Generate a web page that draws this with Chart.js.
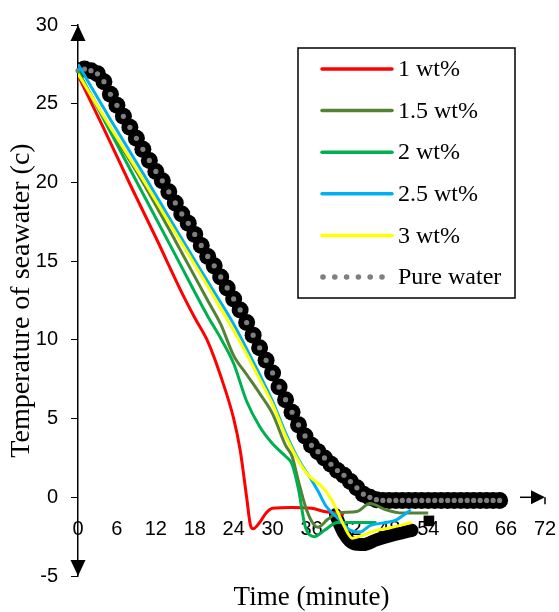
<!DOCTYPE html>
<html lang="en">
<head>
<meta charset="UTF-8" />
<title>Temperature of seawater vs time</title>
<script src="https://cdn.jsdelivr.net/npm/chart.js"></script>
<style>
  html, body { margin: 0; padding: 0; background: #fff; }
  canvas { display: block; }
</style>
</head>
<body>
<canvas id="chart" width="559" height="612"></canvas>
<script>
// tick labels
const timeTicks = [0, 6, 12, 18, 24, 30, 36, 42, 48, 54, 60, 66, 72];
const tempTicks = [-5, 0, 5, 10, 15, 20, 25, 30];

// series (minute, deg C)
const w1Time = [0, 4, 8, 12, 16, 18, 20, 22, 24, 25, 26, 26.6, 27, 28, 29, 30, 33, 36, 38, 40, 41];
const w1Temp = [26.8, 23.4, 19.9, 16.5, 13.0, 11.4, 9.9, 7.7, 5.0, 3.0, 0.0, -1.8, -2.0, -1.6, -1.0, -0.7, -0.65, -0.7, -0.9, -1.0, -1.1];

const w15Time = [0, 5, 10, 15, 20, 22, 24, 26, 28, 30, 32, 33, 34, 35, 36, 37, 38.5, 40, 43, 45, 47.5, 50, 54];
const w15Temp = [27.0, 23.4, 20.0, 16.3, 12.5, 11.0, 9.0, 7.8, 6.6, 5.3, 3.3, 2.6, 1.0, -0.5, -1.5, -1.9, -1.4, -1.0, -0.9, -0.4, -0.8, -1.0, -1.0];

const w2Time = [0, 5, 10, 15, 20, 22, 24, 26, 28, 30, 32, 33, 34, 35, 36.5, 38, 40, 42, 44, 46];
const w2Temp = [27.1, 23.2, 19.3, 15.4, 11.5, 10.1, 8.5, 6.1, 4.5, 3.4, 2.6, 2.1, 0.5, -1.8, -2.5, -2.1, -1.6, -1.6, -1.6, -1.6];

const w25Time = [0, 5, 10, 15, 20, 24, 28, 30, 32, 34, 36, 37, 38.3, 40, 42, 43.5, 45, 47.5, 49, 51.3];
const w25Temp = [27.5, 24.0, 20.6, 17.1, 13.7, 11.0, 7.8, 6.1, 4.1, 2.4, 1.1, 0.4, -0.6, -1.3, -2.1, -2.2, -1.8, -1.6, -1.45, -0.8];

const w3Time = [0, 5, 10, 15, 20, 22, 24, 26, 28, 30, 32, 34, 35.5, 37, 38, 39, 40, 41, 42.3, 44, 46, 48, 50, 51.5];
const w3Temp = [26.9, 23.5, 20.2, 16.8, 13.4, 12.0, 10.6, 9.1, 7.5, 5.9, 3.9, 2.3, 1.4, 0.9, 0.5, -0.1, -0.9, -1.8, -2.6, -2.4, -2.1, -1.95, -1.75, -1.6];

const pureTime = [0, 1, 2, 3, 4, 5, 6, 7, 8, 9, 10, 11, 12, 13, 14, 15, 16, 17, 18, 19, 20, 21,
  22, 23, 24, 25, 26, 27, 28, 29, 30, 31, 32, 33, 34, 35, 36, 37, 38, 39, 40, 41, 42, 43,
  44, 45, 46, 47, 48, 49, 50, 51, 52, 53, 54, 55, 56, 57, 58, 59, 60, 61, 62, 63, 64, 65];
const pureTemp = [27.1, 27.2, 27.1, 26.9, 26.4, 25.6, 24.9, 24.2, 23.5, 22.8, 22.1, 21.4, 20.7, 20.1, 19.4, 18.7, 18.0, 17.4, 16.7, 16.0, 15.3, 14.7,
  14.0, 13.3, 12.6, 11.9, 11.1, 10.3, 9.5, 8.7, 7.9, 7.0, 6.2, 5.4, 4.6, 3.9, 3.3, 2.9, 2.5, 2.1, 1.7, 1.4, 1.0, 0.6,
  0.2, 0.0, -0.15, -0.2, -0.2, -0.2, -0.2, -0.2, -0.2, -0.2, -0.2, -0.2, -0.2, -0.2, -0.2, -0.2, -0.2, -0.2, -0.2, -0.2, -0.2, -0.2];

// heavy black trace under the curves near the end, and the stray square mark
const bandTime = [39.7, 41, 42.5, 44, 46, 48, 50, 51.5];
const bandTemp = [-1.1, -2.3, -2.95, -3.0, -2.7, -2.45, -2.25, -2.1];
const markTime = [54.1];
const markTemp = [-1.5];

const labels = ['1 wt%', '1.5 wt%', '2 wt%', '2.5 wt%', '3 wt%', 'Pure water'];
const colors = ['#FF0000', '#548235', '#00B050', '#00B0F0', '#FFFF00', '#7F7F7F'];

function pts(xs, ys) {
  return xs.map((x, i) => ({ x: x, y: ys[i] }));
}

function curve(i, xs, ys, order) {
  return {
    label: labels[i], data: pts(xs, ys), borderColor: colors[i], backgroundColor: colors[i],
    borderWidth: 3, pointRadius: 0, cubicInterpolationMode: 'monotone',
    order: order, inLegend: true
  };
}

const serif = "'Liberation Serif', 'Times New Roman', serif";
const sans = "'Liberation Sans', Arial, sans-serif";

// gray centres on top of the black markers of pure water
const grayDots = {
  id: 'grayDots',
  afterDatasetDraw(chart, args) {
    const ds = chart.data.datasets[args.index];
    if (!ds.grayDots) return;
    const ctx = chart.ctx;
    ctx.save();
    ctx.fillStyle = ds.grayDots;
    args.meta.data.forEach(p => {
      ctx.beginPath();
      ctx.arc(p.x, p.y, 2.6, 0, Math.PI * 2);
      ctx.fill();
    });
    ctx.restore();
  }
};

// arrows, axis titles and the boxed legend
const decor = {
  id: 'decor',
  afterDraw(chart) {
    const ctx = chart.ctx;
    const xs = chart.scales.x, ys = chart.scales.y;
    const ax = xs.getPixelForValue(0);
    const top = ys.getPixelForValue(30), bot = ys.getPixelForValue(-5);
    const y0 = ys.getPixelForValue(0);
    const xEnd = xs.getPixelForValue(72);
    ctx.save();
    ctx.fillStyle = '#000';
    ctx.strokeStyle = '#000';

    // up / down arrows on the y axis
    ctx.beginPath();
    ctx.moveTo(ax, top); ctx.lineTo(ax - 7.5, top + 16); ctx.lineTo(ax + 7.5, top + 16); ctx.closePath();
    ctx.fill();
    ctx.beginPath();
    ctx.moveTo(ax, bot); ctx.lineTo(ax - 7.5, bot - 16); ctx.lineTo(ax + 7.5, bot - 16); ctx.closePath();
    ctx.fill();

    // right arrow at the end of the x axis
    ctx.lineWidth = 1.5;
    ctx.beginPath();
    ctx.moveTo(xEnd - 25, y0); ctx.lineTo(xEnd - 12, y0); ctx.stroke();
    ctx.beginPath();
    ctx.moveTo(xEnd, y0); ctx.lineTo(xEnd - 14, y0 - 7); ctx.lineTo(xEnd - 14, y0 + 7); ctx.closePath();
    ctx.fill();
    ctx.beginPath();
    ctx.moveTo(xEnd, y0); ctx.lineTo(xEnd, y0 + 7); ctx.stroke();

    // axis titles
    const area = chart.chartArea;
    ctx.textAlign = 'center';
    ctx.textBaseline = 'middle';
    ctx.font = '27px ' + serif;
    ctx.fillText('Time (minute)', (area.left + area.right) / 2, 598);
    ctx.save();
    ctx.translate(22, (area.top + area.bottom) / 2);
    ctx.rotate(-Math.PI / 2);
    ctx.font = '28px ' + serif;
    ctx.fillText('Temperature of seawater (c)', 0, 0);
    ctx.restore();

    // legend
    const items = chart.data.datasets.filter(d => d.inLegend);
    const bx = 298, by = 48, bw = 217, bh = 250, row = 41.6;
    ctx.fillStyle = '#fff';
    ctx.fillRect(bx, by, bw, bh);
    ctx.lineWidth = 1.5;
    ctx.strokeStyle = '#000';
    ctx.strokeRect(bx, by, bw, bh);
    ctx.font = '24px ' + serif;
    ctx.textAlign = 'left';
    items.forEach((d, i) => {
      const ry = by + 21 + i * row;
      if (d.grayDots) {
        ctx.fillStyle = d.grayDots;
        for (let k = 0; k < 6; k++) {
          ctx.beginPath();
          ctx.arc(bx + 25 + k * 11.8, ry, 2.8, 0, Math.PI * 2);
          ctx.fill();
        }
      } else {
        ctx.strokeStyle = d.borderColor;
        ctx.lineWidth = 3.5;
        ctx.lineCap = 'round';
        ctx.beginPath();
        ctx.moveTo(bx + 24, ry); ctx.lineTo(bx + 94, ry); ctx.stroke();
      }
      ctx.fillStyle = '#000';
      ctx.fillText(d.label, bx + 100, ry + 1);
    });
    ctx.restore();
  }
};

new Chart(document.getElementById('chart'), {
  type: 'line',
  data: {
    datasets: [
      curve(0, w1Time, w1Temp, 5),
      curve(1, w15Time, w15Temp, 4),
      curve(2, w2Time, w2Temp, 3),
      curve(3, w25Time, w25Temp, 2),
      curve(4, w3Time, w3Temp, 1),
      {
        label: labels[5], data: pts(pureTime, pureTemp), showLine: false,
        pointRadius: 8.5, pointBackgroundColor: '#000', pointBorderWidth: 0,
        grayDots: colors[5], order: 6, inLegend: true
      },
      {
        label: 'band', data: pts(bandTime, bandTemp), borderColor: '#000', borderWidth: 13,
        borderCapStyle: 'round', borderJoinStyle: 'round', pointRadius: 0,
        cubicInterpolationMode: 'monotone', order: 7
      },
      {
        label: 'mark', data: pts(markTime, markTemp), showLine: false, pointStyle: 'rect',
        pointRadius: 7.5, pointBackgroundColor: '#000', pointBorderWidth: 0, order: 0
      }
    ]
  },
  options: {
    responsive: false,
    animation: false,
    layout: { padding: { left: 0, right: 14, top: 22, bottom: 36 } },
    plugins: { legend: { display: false }, tooltip: { enabled: false } },
    scales: {
      x: {
        type: 'linear', min: 0, max: 72, position: { y: 0 },
        afterBuildTicks: s => { s.ticks = timeTicks.map(v => ({ value: v })); },
        afterFit: s => { s.paddingLeft = 0; s.paddingRight = 0; },
        grid: { display: false },
        border: { display: false },
        ticks: { color: '#000', font: { family: sans, size: 20 }, padding: 12, maxRotation: 0, autoSkip: false }
      },
      y: {
        type: 'linear', min: -5, max: 30,
        afterFit: s => { s.width = 78; },
        afterBuildTicks: s => { s.ticks = tempTicks.map(v => ({ value: v })); },
        grid: { drawOnChartArea: false, drawTicks: true, tickLength: 7, color: '#000', lineWidth: 1 },
        border: { display: true, color: '#000', width: 1.5 },
        ticks: { color: '#000', font: { family: sans, size: 20 }, padding: 13 }
      }
    }
  },
  plugins: [grayDots, decor]
});
</script>
</body>
</html>
